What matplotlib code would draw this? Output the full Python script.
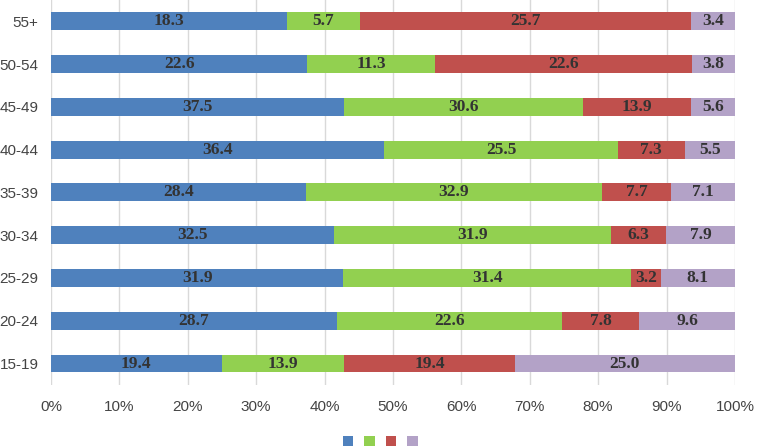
import numpy as np
import matplotlib
matplotlib.use("Agg")
import matplotlib.pyplot as plt
from matplotlib.patches import Patch

groups = ['55+', '50-54', '45-49', '40-44', '35-39', '30-34', '25-29', '20-24', '15-19']
s1 = [18.3, 22.6, 37.5, 36.4, 28.4, 32.5, 31.9, 28.7, 19.4]
s2 = [5.7, 11.3, 30.6, 25.5, 32.9, 31.9, 31.4, 22.6, 13.9]
s3 = [25.7, 22.6, 13.9, 7.3, 7.7, 6.3, 3.2, 7.8, 19.4]
s4 = [3.4, 3.8, 5.6, 5.5, 7.1, 7.9, 8.1, 9.6, 25.0]

colors = ['#4F81BD', '#92D050', '#C0504D', '#B3A2C7']

vals = np.array([s1, s2, s3, s4])
pct = vals / vals.sum(axis=0) * 100

fig = plt.figure(figsize=(7.6, 4.46), dpi=100)
ax = fig.add_axes([0.067, 0.137, 0.9, 0.863])

y = np.arange(len(groups))
left = np.zeros(len(groups))
for i in range(4):
    ax.barh(y, pct[i], left=left, height=0.42, color=colors[i], zorder=2)
    for j in range(len(groups)):
        ax.text(left[j] + pct[i][j] / 2, y[j], f'{vals[i][j]:.1f}',
                ha='center', va='center', fontsize=12.5, fontweight='bold',
                family='Liberation Serif', color='#333333', zorder=3)
    left += pct[i]

ax.set_xlim(0, 100)
ax.set_ylim(len(groups) - 0.5, -0.5)
ax.set_yticks(y)
ax.set_yticklabels(groups)
ax.set_xticks(np.arange(0, 101, 10))
ax.set_xticklabels([f'{t}%' for t in range(0, 101, 10)])
ax.tick_params(axis='both', length=0, labelsize=11, labelcolor='#444444')
ax.tick_params(axis='x', pad=11)
ax.tick_params(axis='y', pad=9)
for lab in ax.get_xticklabels() + ax.get_yticklabels():
    lab.set_family('Liberation Sans')
ax.grid(axis='x', color='#d9d9d9', linewidth=1, zorder=0)
for sp in ax.spines.values():
    sp.set_visible(False)

handles = [Patch(facecolor=c) for c in colors]
fig.legend(handles, [''] * 4, loc='lower center', bbox_to_anchor=(0.503, -0.035),
           ncol=4, frameon=False, handlelength=0.75, handleheight=0.75,
           columnspacing=0.5, handletextpad=0.3)

fig.savefig('out.png', dpi=100)
